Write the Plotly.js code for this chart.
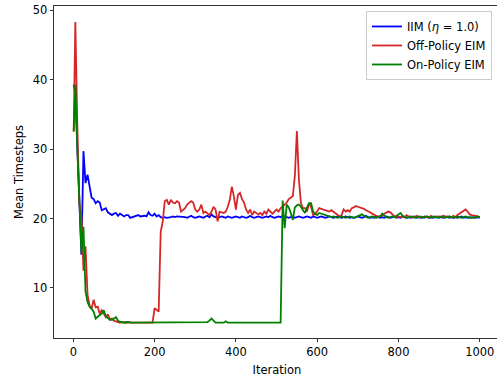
<!DOCTYPE html>
<html>
<head>
<meta charset="utf-8">
<script src="https://cdn.plot.ly/plotly-3.0.1.min.js"></script>
<style>
html, body { margin: 0; padding: 0; overflow: hidden; background: #fff; }
#chart { width: 501px; height: 379px; }
</style>
</head>
<body>
<div id="chart"></div>
<script>
// Iteration grid: first logged point, then every 5 iterations up to 1000
const iterations = [1].concat(Array.from({length: 200}, (_, i) => 5 * (i + 1)));

const seriesNames = ['IIM (<i>η</i> = 1.0)', 'Off-Policy EIM', 'On-Policy EIM'];

const iimValues = [39.3,
  38.0, 30.0, 21.0, 14.8, 29.7, 25.1, 26.3, 24.6, 23.0, 22.8,
  22.2, 22.5, 22.3, 21.2, 21.3, 21.5, 20.9, 20.7, 20.5, 20.7,
  20.8, 20.4, 20.7, 20.5, 20.3, 20.5, 20.5, 20.1, 20.2, 20.4,
  20.4, 20.5, 20.3, 20.4, 20.4, 20.3, 20.9, 20.5, 20.4, 20.7,
  20.3, 20.5, 20.2, 20.1, 20.2, 20.1, 20.1, 20.2, 20.3, 20.2,
  20.3, 20.3, 20.2, 20.3, 20.2, 20.1, 20.2, 20.4, 20.2, 20.1,
  20.2, 20.3, 20.2, 20.1, 20.3, 20.4, 20.2, 20.6, 20.3, 20.2,
  20.1, 20.2, 20.3, 20.2, 20.1, 20.3, 20.2, 20.1, 20.2, 20.3,
  20.2, 20.1, 20.3, 20.2, 20.1, 20.2, 20.4, 20.2, 20.1, 20.2,
  20.3, 20.2, 20.1, 20.2, 20.3, 20.2, 20.4, 20.2, 20.1, 20.2,
  20.3, 20.2, 20.4, 20.3, 20.2, 20.1, 20.2, 20.3, 20.1, 20.2,
  20.3, 20.2, 20.1, 20.2, 20.3, 20.2, 20.1, 20.3, 20.2, 20.1,
  20.2, 20.3, 20.2, 20.1, 20.2, 20.3, 20.2, 20.1, 20.2, 20.3,
  20.2, 20.1, 20.2, 20.3, 20.2, 20.1, 20.2, 20.1, 20.2, 20.3,
  20.2, 20.1, 20.2, 20.4, 20.2, 20.1, 20.2, 20.1, 20.3, 20.2,
  20.1, 20.2, 20.1, 20.3, 20.2, 20.1, 20.2, 20.3, 20.1, 20.2,
  20.1, 20.3, 20.2, 20.1, 20.2, 20.1, 20.2, 20.3, 20.1, 20.2,
  20.1, 20.2, 20.3, 20.2, 20.1, 20.2, 20.1, 20.2, 20.3, 20.1,
  20.2, 20.1, 20.2, 20.3, 20.1, 20.2, 20.1, 20.2, 20.1, 20.2,
  20.3, 20.1, 20.2, 20.1, 20.2, 20.1, 20.2, 20.1, 20.2, 20.1];

const offPolicyValues = [32.5,
  48.3, 33.0, 22.0, 20.5, 12.5, 16.0, 9.0, 7.5, 7.0, 8.3,
  7.2, 7.3, 6.3, 6.8, 6.3, 5.8, 6.2, 5.5, 5.6, 5.3,
  5.2, 5.1, 5.0, 5.1, 5.0, 5.0, 5.1, 5.0, 5.0, 5.0,
  5.0, 5.0, 5.0, 5.0, 5.0, 5.0, 5.0, 5.0, 5.0, 7.1,
  6.8, 6.6, 18.1, 19.6, 22.5, 22.7, 22.0, 22.7, 22.3, 22.2,
  22.5, 22.3, 21.0, 21.3, 21.5, 22.0, 22.3, 22.5, 22.3, 21.3,
  21.0, 21.3, 22.0, 20.8, 21.0, 20.8, 20.5, 21.0, 21.7, 21.3,
  19.6, 21.0, 20.9, 20.8, 21.0, 21.7, 22.7, 24.6, 23.2, 21.3,
  23.4, 23.7, 22.8, 22.3, 21.3, 20.8, 21.3, 20.5, 21.0, 20.8,
  20.6, 20.8, 20.5, 21.0, 20.7, 21.3, 21.0, 20.7, 21.0, 21.3,
  21.0, 21.5, 21.7, 22.0, 22.3, 22.8, 23.0, 23.2, 26.1, 32.6,
  25.6, 22.2, 21.5, 21.5, 21.0, 22.2, 21.7, 20.5, 20.6, 21.0,
  21.5, 21.4, 21.3, 21.3, 21.2, 21.0, 21.2, 21.0, 20.8, 20.6,
  20.3, 20.5, 21.3, 21.0, 21.2, 21.0, 21.5, 21.6, 21.8, 21.7,
  21.6, 21.6, 21.4, 21.2, 21.1, 20.9, 20.7, 20.5, 20.4, 20.3,
  20.3, 20.4, 20.7, 20.9, 21.0, 20.9, 20.6, 20.3, 20.2, 20.3,
  20.2, 20.3, 20.2, 20.5, 20.3, 20.2, 20.3, 20.2, 20.4, 20.2,
  20.3, 20.2, 20.1, 20.3, 20.2, 20.4, 20.2, 20.3, 20.2, 20.3,
  20.2, 20.4, 20.3, 20.2, 20.3, 20.2, 20.4, 20.2, 20.5, 20.7,
  20.9, 21.0, 21.3, 21.0, 20.6, 20.5, 20.5, 20.4, 20.3, 20.2];

const onPolicyValues = [32.6,
  39.3, 30.0, 21.0, 15.0, 18.8, 9.5, 8.0, 7.3, 7.0, 6.6,
  5.6, 5.9, 6.1, 6.3, 6.8, 5.9, 5.7, 5.4, 5.4, 5.6,
  5.8, 5.3, 5.1, 5.1, 5.0, 5.1, 5.0, 5.0, 5.0, 5.0,
  5.0, 5.0, 5.0, 5.0, 5.1, 5.0, 5.0, 5.0, 5.0, 5.0,
  5.0, 5.0, 5.0, 5.0, 5.0, 5.0, 5.0, 5.0, 5.0, 5.0,
  5.0, 5.0, 5.0, 5.0, 5.0, 5.0, 5.0, 5.0, 5.0, 5.1,
  5.0, 5.0, 5.0, 5.0, 5.0, 5.1, 5.3, 5.6, 5.3, 5.0,
  5.0, 5.0, 5.0, 5.0, 5.2, 5.0, 5.0, 5.0, 5.0, 5.0,
  5.0, 5.0, 5.0, 5.0, 5.0, 5.0, 5.0, 5.0, 5.0, 5.0,
  5.0, 5.0, 5.0, 5.0, 5.0, 5.0, 5.0, 5.0, 5.0, 5.0,
  5.0, 5.0, 22.6, 18.6, 22.0, 21.6, 20.8, 19.8, 21.6, 21.9,
  22.0, 21.7, 21.2, 20.8, 21.6, 22.2, 22.2, 21.0, 20.7, 20.5,
  20.8, 20.7, 20.6, 20.5, 20.4, 20.3, 20.2, 20.3, 20.2, 20.1,
  20.2, 20.3, 20.2, 20.1, 20.2, 20.3, 20.2, 20.1, 20.2, 20.3,
  20.4, 20.6, 20.4, 20.2, 20.1, 20.2, 20.3, 20.2, 20.1, 20.2,
  20.3, 20.7, 20.4, 20.2, 20.1, 20.2, 20.3, 20.2, 20.4, 20.6,
  20.8, 20.4, 20.2, 20.1, 20.2, 20.3, 20.2, 20.1, 20.2, 20.3,
  20.2, 20.1, 20.2, 20.3, 20.2, 20.1, 20.3, 20.2, 20.1, 20.2,
  20.3, 20.2, 20.1, 20.2, 20.3, 20.2, 20.1, 20.2, 20.3, 20.2,
  20.1, 20.2, 20.3, 20.2, 20.1, 20.2, 20.1, 20.2, 20.3, 20.2];

const xTicks = [0, 200, 400, 600, 800, 1000];
const yTicks = [10, 20, 30, 40, 50];

const colors = ['#0000ff', '#d62728', '#008000'];
const allValues = [iimValues, offPolicyValues, onPolicyValues];

const traces = allValues.map((vals, i) => ({
  x: iterations,
  y: vals,
  type: 'scatter',
  mode: 'lines',
  name: seriesNames[i],
  line: {color: colors[i], width: 1.8}
}));

const font = {family: 'DejaVu Sans, sans-serif', size: 11.5, color: '#000'};

const layout = {
  width: 501,
  height: 379,
  margin: {l: 54, r: 1, t: 6, b: 41, pad: 0},
  paper_bgcolor: '#fff',
  plot_bgcolor: '#fff',
  font: font,
  showlegend: true,
  legend: {
    x: 0.982, y: 0.985, xanchor: 'right', yanchor: 'top',
    bgcolor: 'rgba(255,255,255,0.8)',
    bordercolor: '#cccccc', borderwidth: 1,
    font: font,
    itemwidth: 30,
    tracegroupgap: 0
  },
  xaxis: {
    range: [-47.5, 1049.7],
    tickvals: xTicks,
    ticktext: xTicks.map(String),
    ticks: 'outside', ticklen: 3.5, tickwidth: 0.8, tickcolor: '#000',
    showline: true, linecolor: '#000', linewidth: 0.8, mirror: true,
    showgrid: false, zeroline: false,
    tickfont: font,
    title: {text: 'Iteration', font: font, standoff: 7}
  },
  yaxis: {
    range: [2.8, 50.6],
    tickvals: yTicks,
    ticktext: yTicks.map(String),
    ticks: 'outside', ticklen: 3.5, tickwidth: 0.8, tickcolor: '#000',
    showline: true, linecolor: '#000', linewidth: 0.8, mirror: true,
    showgrid: false, zeroline: false,
    tickfont: font,
    title: {text: 'Mean Timesteps', font: font, standoff: 6}
  }
};

Plotly.newPlot('chart', traces, layout, {displayModeBar: false, staticPlot: true});
</script>
</body>
</html>
